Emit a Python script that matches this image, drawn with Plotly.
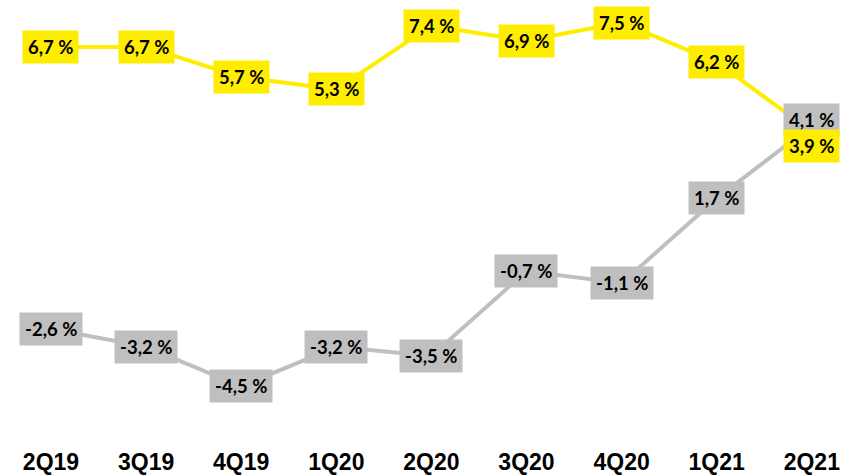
import plotly.graph_objects as go

quarters = ["2Q19", "3Q19", "4Q19", "1Q20", "2Q20", "3Q20", "4Q20", "1Q21", "2Q21"]
yellow_values = [6.7, 6.7, 5.7, 5.3, 7.4, 6.9, 7.5, 6.2, 3.9]
gray_values = [-2.6, -3.2, -4.5, -3.2, -3.5, -0.7, -1.1, 1.7, 4.1]

YELLOW = "#FFED00"
GRAY = "#BFBFBF"

xs = list(range(len(quarters)))


def fmt(v):
    return f"{v:.1f}".replace(".", ",") + " %"


fig = go.Figure()
fig.add_trace(go.Scatter(x=xs, y=gray_values, mode="lines",
                         line=dict(color=GRAY, width=4), hoverinfo="skip"))
fig.add_trace(go.Scatter(x=xs, y=yellow_values, mode="lines",
                         line=dict(color=YELLOW, width=4), hoverinfo="skip"))

annotations = []
last = len(quarters) - 1
for series, color in ((gray_values, GRAY), (yellow_values, YELLOW)):
    for i, v in enumerate(series):
        shift = 0
        if i == last:
            # the two final labels sit close together: gray above, yellow below
            shift = 6 if color == GRAY else -14
        annotations.append(dict(
            x=xs[i], y=v, xref="x", yref="y", text=fmt(v), showarrow=False,
            bgcolor=color, borderpad=5, yshift=shift,
            font=dict(family="Lato", size=18.5, color="#000000", weight="bold"),
        ))

fig.update_layout(
    width=841, height=475,
    margin=dict(l=0, r=0, t=0, b=40),
    paper_bgcolor="white", plot_bgcolor="white",
    showlegend=False,
    annotations=annotations,
    xaxis=dict(range=[-0.536, 8.307], tickvals=xs, ticktext=quarters,
               showgrid=False, zeroline=False, showline=False, ticks="",
               ticklabelstandoff=18,
               tickfont=dict(family="Liberation Sans", size=23, color="#000000", weight="bold")),
    yaxis=dict(range=[-5.877, 8.247], visible=False, showgrid=False, zeroline=False),
)

fig.write_html("out.html")
